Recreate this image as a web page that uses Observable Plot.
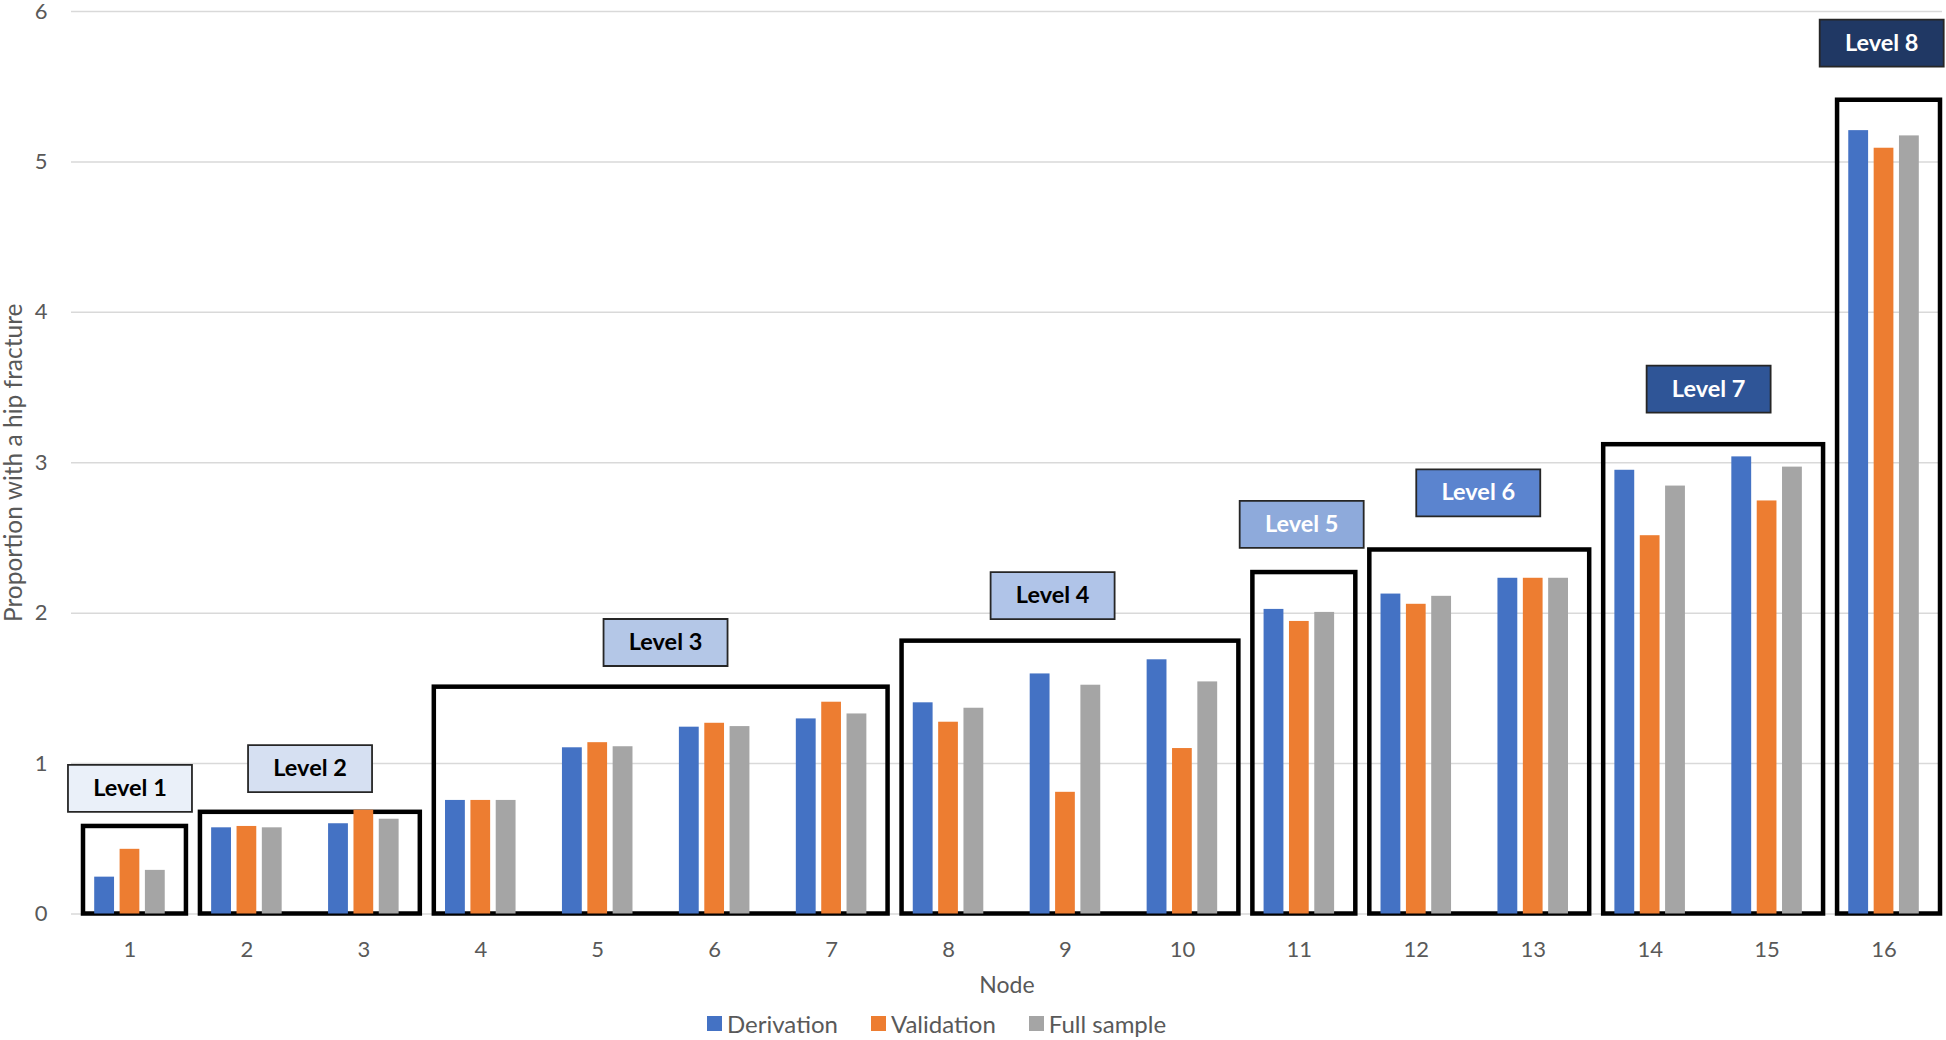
<!DOCTYPE html>
<html>
<head>
<meta charset="utf-8">
<script src="https://cdn.jsdelivr.net/npm/d3@7"></script>
<script src="https://cdn.jsdelivr.net/npm/@observablehq/plot@0.6"></script>
<style>
  html, body { margin: 0; padding: 0; background: #fff; }
  body { width: 1946px; height: 1040px; overflow: hidden; font-family: Lato, "Open Sans", sans-serif; }
  #legend { height: 40px; display: flex; align-items: center; padding-left: 707px; padding-top: 6px; box-sizing: border-box; font-size: 24px; color: #595959; }
  .item { display: flex; align-items: center; margin-right: 33px; }
  .sw { width: 15px; height: 15px; margin-right: 5px; }
</style>
</head>
<body>
<div id="chart"></div>
<div id="legend"></div>
<script>
// ---- data ----
const nodes = [1, 2, 3, 4, 5, 6, 7, 8, 9, 10, 11, 12, 13, 14, 15, 16];
const derivation = [0.245, 0.573, 0.60, 0.755, 1.105, 1.242, 1.297, 1.404, 1.596, 1.69, 2.025, 2.127, 2.232, 2.95, 3.039, 5.208];
const validation = [0.43, 0.582, 0.69, 0.755, 1.139, 1.268, 1.408, 1.275, 0.809, 1.10, 1.945, 2.059, 2.232, 2.515, 2.746, 5.091];
const fullSample = [0.29, 0.573, 0.63, 0.755, 1.112, 1.246, 1.33, 1.368, 1.521, 1.543, 2.005, 2.112, 2.232, 2.845, 2.971, 5.173];
const seriesNames = ["Derivation", "Validation", "Full sample"];
const seriesColors = ["#4472c4", "#ed7d31", "#a5a5a5"];
const yTicks = [0, 1, 2, 3, 4, 5, 6];

const levelNames = ["Level 1", "Level 2", "Level 3", "Level 4", "Level 5", "Level 6", "Level 7", "Level 8"];
const levelFirstNode = [1, 2, 4, 8, 11, 12, 14, 16];
const levelLastNode = [1, 3, 7, 10, 11, 13, 15, 16];
const levelBoxTop = [0.582, 0.676, 1.508, 1.814, 2.27, 2.42, 3.12, 5.41];
const levelLabelNode = [1.0, 2.54, 5.58, 8.89, 11.02, 12.53, 14.50, 15.98];
const levelLabelValue = [0.835, 0.967, 1.805, 2.117, 2.59, 2.80, 3.49, 5.79];
const levelFill = ["#eaf0f9", "#d6e0f2", "#b4c7e7", "#b0c4e8", "#8eaadb", "#5b84cf", "#2f5597", "#203864"];
const levelTextColor = ["#000000", "#000000", "#000000", "#000000", "#ffffff", "#ffffff", "#ffffff", "#ffffff"];

// ---- tables built from arrays ----
const rows = nodes.map((n, i) => ({node: n, d: derivation[i], v: validation[i], f: fullSample[i]}));
const levels = levelNames.map((name, i) => ({
  name, first: levelFirstNode[i], last: levelLastNode[i], top: levelBoxTop[i],
  lx: levelLabelNode[i], ly: levelLabelValue[i], fill: levelFill[i], text: levelTextColor[i]
}));

// label box symbol (fixed pixel size)
const labelBox = {draw(ctx) { ctx.rect(-62, -23.5, 124, 47); }};

const bandX1 = d => d.node - 0.5;
const bandX2 = d => d.node + 0.5;

const chart = Plot.plot({
  width: 1946,
  height: 1000,
  marginLeft: 71,
  marginRight: 4,
  marginTop: 11,
  marginBottom: 86.5,
  style: {fontFamily: "Lato, 'Open Sans', sans-serif", fontSize: "22px", color: "#595959", background: "#fff"},
  x: {domain: [0.5, 16.5]},
  y: {domain: [0, 6]},
  color: {type: "identity"},
  marks: [
    Plot.gridY({ticks: yTicks, stroke: "#d9d9d9", strokeOpacity: 1, strokeWidth: 1.5}),
    Plot.axisY({ticks: yTicks, tickSize: 0, tickPadding: 24, label: null, tickFormat: d => String(d)}),
    Plot.axisX({ticks: nodes, tickSize: 0, tickPadding: 27, label: null, tickFormat: d => String(d)}),
    // level boxes
    Plot.rect(levels, {
      x1: d => d.first - 0.5, x2: d => d.last + 0.5, y1: 0, y2: "top",
      insetLeft: 12, insetRight: 2, fill: "none", stroke: "#000", strokeWidth: 4.5
    }),
    // bars
    Plot.rectY(rows, {x1: bandX1, x2: bandX2, y1: 0, y2: "d", insetLeft: 23.2, insetRight: 73.9, fill: seriesColors[0]}),
    Plot.rectY(rows, {x1: bandX1, x2: bandX2, y1: 0, y2: "v", insetLeft: 48.6, insetRight: 48.6, fill: seriesColors[1]}),
    Plot.rectY(rows, {x1: bandX1, x2: bandX2, y1: 0, y2: "f", insetLeft: 73.9, insetRight: 23.2, fill: seriesColors[2]}),
    // level labels
    Plot.dot(levels, {x: "lx", y: "ly", symbol: labelBox, r: 10, fill: "fill", stroke: "#262626", strokeWidth: 1.8}),
    Plot.text(levels, {x: "lx", y: "ly", text: "name", fill: "text", fontWeight: "bold", fontSize: 23.5}),
    // axis titles
    Plot.text(["Proportion with a hip fracture"], {frameAnchor: "left", textAnchor: "middle", dx: -57, rotate: -90, fontSize: 24.5, fill: "#595959"}),
    Plot.text(["Node"], {frameAnchor: "bottom", dy: 79, fontSize: 23, fill: "#595959"})
  ]
});
document.getElementById("chart").appendChild(chart);

// legend
const legend = document.getElementById("legend");
seriesNames.forEach((name, i) => {
  const item = document.createElement("div");
  item.className = "item";
  const sw = document.createElement("div");
  sw.className = "sw";
  sw.style.background = seriesColors[i];
  const label = document.createElement("span");
  label.textContent = name;
  item.appendChild(sw);
  item.appendChild(label);
  legend.appendChild(item);
});
</script>
</body>
</html>
